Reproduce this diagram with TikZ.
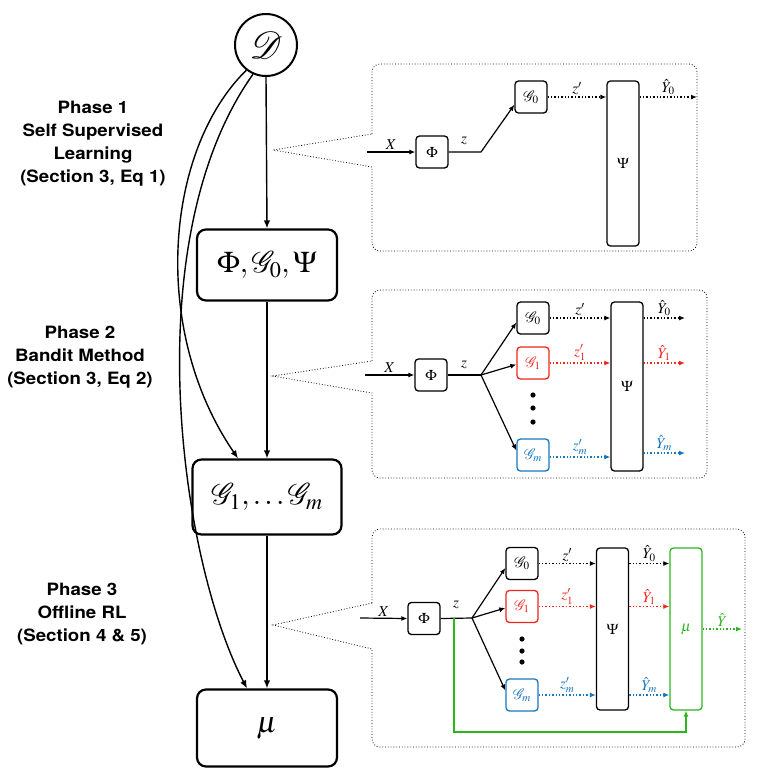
\documentclass[tikz,border=0pt]{standalone}
\usepackage{mathptmx}
\usepackage{mathrsfs}
\DeclareFontFamily{U}{rsfs}{\skewchar\font127 }
\DeclareFontShape{U}{rsfs}{m}{n}{<-6> rsfs5 <6-8> rsfs7 <8-> rsfs10}{}
\usepackage{fontspec}
\usetikzlibrary{arrows.meta,calc}
\newfontfamily\phasefont[FakeStretch=1.1]{TeX Gyre Heros}
\definecolor{cred}{RGB}{240,38,28}
\definecolor{cblue}{RGB}{21,119,192}
\definecolor{cgreen}{RGB}{45,181,30}
\begin{document}
\begin{tikzpicture}[x=1pt,y=-1pt,
  mainbox/.style={draw,line width=2.2pt,rounded corners=9pt,minimum width=140pt,minimum height=71pt,inner sep=0pt,font=\fontsize{30}{34}\selectfont},
  sbox/.style={draw,line width=1.3pt,rounded corners=3.5pt,minimum width=32pt,minimum height=32pt,inner sep=0pt,font=\fontsize{15}{17}\selectfont},
  tallbox/.style={sbox,minimum height=#1},
  panel/.style={draw,dotted,line width=0.8pt},
  marr/.style={-{Latex[length=8pt,width=6.5pt]},line width=1.4pt},
  arr/.style={-{Latex[length=6pt,width=5pt]},line width=1.2pt},
  darr/.style={-{Latex[length=6pt,width=5pt]},line width=1.4pt,dotted},
  lab/.style={font=\fontsize{15}{17}\selectfont,inner sep=0.5pt},
  phase/.style={align=center,font=\phasefont\bfseries\fontsize{17}{23}\selectfont}
]
\useasboundingbox (0,0) rectangle (762,777);

% ---------- main column ----------
\node[draw,circle,line width=2pt,minimum size=62pt,inner sep=0pt,font=\fontsize{38}{42}\selectfont] (D) at (266,45) {$\mathscr{D}$};
\node[mainbox] (B1) at (267,265) {$\Phi, \mathscr{G}_0, \Psi$};
\node[mainbox,minimum width=149pt,minimum height=75pt] (B2) at (267,497) {$\mathscr{G}_1, \ldots \mathscr{G}_m$};
\node[mainbox,minimum height=77pt] (B3) at (267,728) {$\mu$};

\draw[marr] (D.south) -- (B1.north);
\draw[marr] (B1.south) -- (B2.north);
\draw[marr] (B2.south) -- (B3.north);
\draw[marr] (D.232) .. controls (165,150) and (150,330) .. ([xshift=-29pt]B2.north);
\draw[marr] (D.246) .. controls (135,240) and (180,560) .. ([xshift=-20pt]B3.north);

% ---------- phase labels ----------
\node[phase] (P1) at (93,144) {Phase 1\\Self Supervised\\Learning\\(Section 3, Eq 1)};
\node[phase] (P2) at (80,357) {Phase 2\\Bandit Method\\(Section 3, Eq 2)};
\node[phase] (P3) at (82,614) {Phase 3\\Offline RL\\(Section 4 \& 5)};

% ---------- panel 1 ----------
\coordinate (t1) at (273,150);
\draw[panel] (372,134) [rounded corners=8pt] -- (372,64) -- (697,64) -- (697,251) -- (372,251) [sharp corners] -- (372,167) -- (t1) -- cycle;
\coordinate (x1) at (367,152);
\node[sbox] (F1) at (432,152) {$\Phi$};
\node[sbox] (G01) at (531,97) {$\mathscr{G}_0$};
\node[tallbox=165pt] (S1) at (623,163.5) {$\Psi$};
\coordinate (b1) at (481,152);
\coordinate (o1) at (697,97);
\draw[arr] (x1) -- (F1.west) node[lab,midway,above=1pt] {$X$};
\draw[arr] (F1.east) -- (b1) -- (G01.205);
\node[lab] at (464,141) {$z$};
\draw[darr] (G01.east) -- (G01.east -| S1.west) node[lab,midway,above=1pt] {$z'$};
\draw[darr] (G01.east -| S1.east) -- (o1) node[lab,midway,above=1pt] {$\hat{Y}_0$};

% ---------- panel 2 ----------
\coordinate (t2) at (273,376);
\draw[panel] (372,361) [rounded corners=8pt] -- (372,290) -- (707,290) -- (707,478) -- (372,478) [sharp corners] -- (372,393) -- (t2) -- cycle;
\coordinate (x2) at (365,375);
\node[sbox] (F2) at (431,375) {$\Phi$};
\node[sbox] (G02) at (533,318) {$\mathscr{G}_0$};
\node[sbox,draw=cred,text=cred] (G12) at (533,363) {$\mathscr{G}_1$};
\node[sbox,draw=cblue,text=cblue] (Gm2) at (533,455) {$\mathscr{G}_m$};
\node[tallbox=169pt] (S2) at (627,386.5) {$\Psi$};
\coordinate (b2) at (481,375);
\foreach \yy in {395,408,422} \fill (533,\yy) circle (2.6pt);
\draw[arr] (x2) -- (F2.west) node[lab,midway,above=1pt] {$X$};
\draw[line width=1.2pt] (F2.east) -- (b2);
\node[lab] at (464,365) {$z$};
\draw[arr] (b2) -- (G02.195);
\draw[arr] (b2) -- (G12.185);
\draw[arr] (b2) -- (Gm2.165);
\draw[darr] (G02.east) -- (G02.east -| S2.west) node[lab,midway,above=1pt] {$z'$};
\draw[darr,cred] (G12.east) -- (G12.east -| S2.west) node[lab,midway,above=1pt] {$z'_1$};
\draw[darr,cblue] ([yshift=-2pt]Gm2.east) -- ([yshift=-2pt]Gm2.east -| S2.west) node[lab,midway,above=1pt] {$z'_m$};
\coordinate (o20) at (685,318);
\coordinate (o21) at (685,363);
\coordinate (o2m) at (685,453);
\draw[darr] (G02.east -| S2.east) -- (o20) node[lab,midway,above=1pt] {$\hat{Y}_0$};
\draw[darr,cred] (G12.east -| S2.east) -- (o21) node[lab,midway,above=1pt] {$\hat{Y}_1$};
\draw[darr,cblue] (o2m -| S2.east) -- (o2m) node[lab,midway,above=1pt] {$\hat{Y}_m$};

% ---------- panel 3 ----------
\coordinate (t3) at (273,625);
\draw[panel] (372,603) [rounded corners=8pt] -- (372,529) -- (745,529) -- (745,747) -- (372,747) [sharp corners] -- (372,649) -- (t3) -- cycle;
\coordinate (x3) at (360,618);
\node[sbox] (F3) at (424,618.5) {$\Phi$};
\node[sbox] (G03) at (522,563.5) {$\mathscr{G}_0$};
\node[sbox,draw=cred,text=cred] (G13) at (522,606.5) {$\mathscr{G}_1$};
\node[sbox,draw=cblue,text=cblue] (Gm3) at (522,695) {$\mathscr{G}_m$};
\node[tallbox=162pt] (S3) at (612.5,629) {$\Psi$};
\node[tallbox=162pt,draw=cgreen,text=cgreen] (M3) at (686,629) {$\mu$};
\coordinate (b3) at (472,618);
\coordinate (g3) at (454,618);
\coordinate (o3) at (742,629);
\foreach \yy in {639,651,662} \fill (522,\yy) circle (2.6pt);
\draw[arr] (x3) -- (F3.west) node[lab,midway,above=1pt] {$X$};
\draw[line width=1.2pt] (F3.east) -- (b3);
\node[lab] at (456,605) {$z$};
\draw[arr] (b3) -- (G03.195);
\draw[arr] (b3) -- (G13.185);
\draw[arr] (b3) -- (Gm3.165);
\draw[arr,cgreen] (g3) -- (454,732) -| (M3.south);
\draw[darr] (G03.east) -- (G03.east -| S3.west) node[lab,midway,above=1pt] {$z'$};
\draw[darr,cred] (G13.east) -- (G13.east -| S3.west) node[lab,midway,above=1pt] {$z'_1$};
\draw[darr,cblue] (Gm3.east) -- (Gm3.east -| S3.west) node[lab,midway,above=1pt] {$z'_m$};
\draw[darr] (G03.east -| S3.east) -- (G03.east -| M3.west) node[lab,midway,above=1pt] {$\hat{Y}_0$};
\draw[darr,cred] (G13.east -| S3.east) -- (G13.east -| M3.west) node[lab,midway,above=1pt] {$\hat{Y}_1$};
\draw[darr,cblue] (Gm3.east -| S3.east) -- (Gm3.east -| M3.west) node[lab,midway,above=1pt] {$\hat{Y}_m$};
\draw[darr,cgreen] (M3.east) -- (o3) node[lab,midway,above=1pt] {$\hat{Y}$};
\end{tikzpicture}
\end{document}
